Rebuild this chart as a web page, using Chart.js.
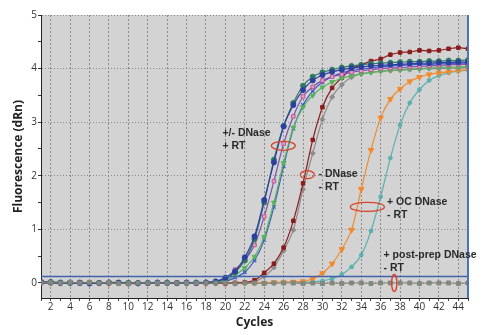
<!DOCTYPE html>
<html>
<head>
<meta charset="utf-8">
<script src="https://cdn.jsdelivr.net/npm/chart.js@4.4.1/dist/chart.umd.min.js"></script>
<style>
html,body{margin:0;padding:0;background:#fff;}
#wrap{width:486px;height:335px;position:relative;}
</style>
</head>
<body>
<div id="wrap"><canvas id="c" width="486" height="335"></canvas></div>
<script>
// ---- data ----
const cycles = [1,2,3,4,5,6,7,8,9,10,11,12,13,14,15,16,17,18,19,20,21,22,23,24,25,26,27,28,29,30,31,32,33,34,35,36,37,38,39,40,41,42,43,44,45];

const darkBlueCircles = [0.02,0.01,0.00,0.01,0.00,-0.01,0.00,0.01,0.00,-0.01,0.00,0.00,0.01,0.00,0.00,0.01,0.00,0.01,0.03,0.10,0.22,0.48,0.87,1.55,2.25,2.92,3.32,3.60,3.78,3.88,3.94,3.98,4.01,4.03,4.05,4.06,4.07,4.08,4.09,4.10,4.10,4.11,4.11,4.12,4.12];
const darkGreenCircles = [0.01,0.02,0.01,0.00,0.01,0.00,0.00,0.01,0.01,0.00,-0.01,0.00,0.00,0.01,0.00,0.00,0.01,0.01,0.02,0.08,0.20,0.42,0.82,1.50,2.30,2.93,3.36,3.68,3.85,3.93,3.98,4.02,4.05,4.07,4.09,4.10,4.11,4.12,4.13,4.13,4.14,4.14,4.15,4.15,4.16];
const pinkSquares = [0.00,0.01,0.01,0.00,0.00,0.01,0.00,0.00,0.01,0.00,0.00,-0.01,0.00,0.00,0.01,0.00,0.00,0.01,0.02,0.08,0.25,0.42,0.71,1.24,1.90,2.60,3.11,3.48,3.66,3.78,3.85,3.89,3.93,3.96,3.98,4.00,4.01,4.02,4.03,4.04,4.05,4.06,4.07,4.08,4.08];
const lightGreenTriangles = [0.01,0.00,0.01,0.01,0.00,0.00,0.01,0.00,0.00,0.01,0.00,0.00,0.00,0.01,0.00,0.00,0.00,0.01,0.01,0.05,0.15,0.28,0.49,0.86,1.50,2.24,2.90,3.28,3.50,3.65,3.75,3.82,3.87,3.90,3.93,3.95,3.97,3.98,3.99,4.00,4.01,4.02,4.03,4.03,4.04];
const blueCrosses = [0.00,0.01,0.00,0.00,0.01,0.00,0.01,0.00,0.00,0.00,0.01,0.00,0.00,0.00,0.01,0.00,0.01,0.00,0.01,0.03,0.10,0.20,0.42,0.80,1.42,2.18,2.88,3.32,3.58,3.75,3.85,3.92,3.96,3.99,4.01,4.03,4.05,4.06,4.07,4.08,4.08,4.09,4.09,4.10,4.10];
const darkRedSquares = [0.01,0.00,0.00,0.01,-0.01,0.00,0.00,0.00,0.01,-0.01,-0.01,0.00,-0.01,0.00,-0.01,0.00,-0.01,0.00,0.00,-0.01,0.00,0.01,0.05,0.19,0.36,0.66,1.16,1.86,2.67,3.28,3.64,3.83,4.00,4.07,4.14,4.18,4.26,4.30,4.31,4.34,4.33,4.34,4.37,4.39,4.37];
const grayDiamonds = [0.00,0.00,0.01,0.00,0.00,0.01,0.00,0.00,0.00,0.00,0.01,0.00,0.00,-0.01,0.00,0.00,0.00,0.00,0.00,0.00,0.00,0.00,0.02,0.12,0.29,0.60,0.99,1.75,2.42,3.05,3.47,3.70,3.84,3.90,3.93,3.95,3.96,3.97,3.98,3.99,4.00,4.00,4.01,4.01,4.02];
const orangeTriangles = [0.02,0.01,0.00,0.00,0.01,0.00,0.00,-0.01,0.00,0.00,0.00,0.00,-0.01,0.00,0.00,-0.01,0.00,-0.01,0.00,-0.01,0.00,0.00,0.00,0.00,0.01,0.01,0.02,0.03,0.08,0.18,0.36,0.63,0.99,1.75,2.48,3.08,3.43,3.62,3.76,3.84,3.89,3.92,3.94,3.96,3.98];
const tealCircles = [0.01,0.00,0.00,0.00,0.00,0.00,0.01,0.00,0.00,0.00,0.00,0.00,0.00,0.00,0.00,0.00,0.00,0.00,0.00,0.00,0.00,0.00,0.00,0.00,0.00,0.01,0.01,0.01,0.02,0.04,0.08,0.16,0.30,0.52,0.97,1.61,2.33,2.95,3.36,3.61,3.78,3.87,3.92,3.95,3.97];
const postPrepSquares = [0.00,0.01,0.00,0.01,0.00,0.01,0.00,0.01,-0.01,-0.01,0.00,0.00,0.00,0.00,0.00,0.00,0.00,0.00,0.00,0.00,-0.01,0.00,0.00,-0.01,0.00,0.00,0.00,-0.01,0.00,-0.01,0.00,-0.01,0.00,0.00,-0.01,0.00,0.00,0.00,0.00,-0.01,0.00,0.00,0.00,-0.01,0.00];
const thresholdLevel = 0.12;

const yTickLabels = [0,1,2,3,4,5];
const xTickLabels = [2,4,6,8,10,12,14,16,18,20,22,24,26,28,30,32,34,36,38,40,42,44];

// annotation texts (positions in data units: cycle, dRn)
const notes = [
  {lines:['+/- DNase','+ RT'], c:19.7, v:2.80},
  {lines:['- DNase','- RT'], c:29.6, v:2.04},
  {lines:['+ OC DNase','- RT'], c:36.65, v:1.50},
  {lines:['+ post-prep DNase','- RT'], c:36.3, v:0.52}
];
const ellipses = [
  {c:25.97, v:2.56, rx:12, ry:4.5},
  {c:28.44, v:2.02, rx:7, ry:4},
  {c:34.63, v:1.42, rx:17, ry:4.5},
  {c:37.4, v:0.0, rx:2.6, ry:8.5}
];

// ---- build chart ----
const pts = arr => cycles.map((c,i)=>({x:c, y:arr[i]}));
function ds(label, arr, color, style, opts) {
  return Object.assign({
    label, data: pts(arr), borderColor: color, backgroundColor: color,
    pointStyle: style, pointRadius: 2.5, pointBorderWidth: 1,
    pointBorderColor: color, pointBackgroundColor: color,
    borderWidth: 1.2, tension: 0.3, fill: false
  }, opts || {});
}

const datasets = [
  {label:'threshold', data:[{x:cycles[0],y:thresholdLevel},{x:cycles[cycles.length-1],y:thresholdLevel}],
   borderColor:'#4162ad', borderWidth:1.6, pointRadius:0, fill:false},
  ds('post-prep', postPrepSquares, '#7d8a82', 'rect', {pointRadius:2.8, borderWidth:1, borderColor:'#9a7a6a'}),
  ds('dark blue', darkBlueCircles, '#2b3f9e', 'circle'),
  ds('dark green', darkGreenCircles, '#2d7a63', 'circle'),
  ds('pink', pinkSquares, '#7b4fb0', 'rect', {pointBorderColor:'#c8509a', pointBackgroundColor:'#d7a6c8'}),
  ds('light green', lightGreenTriangles, '#56b35a', 'triangle', {rotation:180, pointRadius:2.8}),
  ds('blue x', blueCrosses, '#3b58c8', 'crossRot', {pointBorderWidth:1.3}),
  ds('dark red', darkRedSquares, '#8b1c1c', 'rect'),
  ds('gray', grayDiamonds, '#8c8c8c', 'rectRot'),
  ds('orange', orangeTriangles, '#f28a2c', 'triangle', {rotation:180, pointRadius:3.2}),
  ds('teal', tealCircles, '#5bb0b0', 'circle', {pointRadius:1.9})
];

const bgPlugin = {
  id:'bg',
  beforeDraw(chart){
    const {ctx, chartArea:a} = chart;
    ctx.save();
    ctx.fillStyle = '#d3d3d3';
    ctx.fillRect(a.left, a.top, a.right-a.left, a.bottom-a.top);
    ctx.restore();
  },
  afterDatasetsDraw(chart){
    const {ctx, chartArea:a, scales} = chart;
    ctx.save();
    ctx.strokeStyle = '#4f74b8'; ctx.lineWidth = 2;
    ctx.beginPath(); ctx.moveTo(a.right, a.top); ctx.lineTo(a.right, a.bottom); ctx.stroke();
    ctx.strokeStyle = '#d8432c'; ctx.lineWidth = 1.3;
    ellipses.forEach(e=>{
      const x = scales.x.getPixelForValue(e.c), y = scales.y.getPixelForValue(e.v);
      ctx.beginPath(); ctx.ellipse(x, y, e.rx, e.ry, 0, 0, Math.PI*2); ctx.stroke();
    });
    ctx.fillStyle = '#2a2a2a';
    ctx.font = 'bold 10.5px "Liberation Sans", Arial, sans-serif';
    ctx.textBaseline = 'middle'; ctx.textAlign = 'left';
    notes.forEach(n=>{
      const x = scales.x.getPixelForValue(n.c), y = scales.y.getPixelForValue(n.v);
      n.lines.forEach((t,i)=> ctx.fillText(t, x, y + i*13));
    });
    ctx.restore();
  }
};

const isHalf = v => Math.abs(v*2 - Math.round(v*2)) < 1e-6;

new Chart(document.getElementById('c'), {
  type:'line',
  data:{datasets},
  options:{
    responsive:false, animation:false,
    layout:{padding:{top:15, right:18, left:0, bottom:0}},
    plugins:{legend:{display:false}, tooltip:{enabled:false}},
    scales:{
      x:{
        type:'linear', min:1, max:45,
        afterFit(s){ s.height = 37; },
        ticks:{stepSize:1, autoSkip:false, maxRotation:0, padding:0,
          color:'#333', font:{family:'"Open Sans", sans-serif', size:10},
          callback:v => xTickLabels.includes(v) ? String(v) : ''},
        grid:{
          color: c => (c.tick && xTickLabels.includes(c.tick.value)) ? '#8a8a8a' : 'rgba(0,0,0,0)',
          lineWidth:1, tickLength:3, tickColor:'#444', drawTicks:true
        },
        border:{color:'#222', width:1, dash:[2,2]},
        title:{display:true, text:'Cycles', color:'#222',
          font:{family:'"Open Sans", sans-serif', size:12, weight:'bold'}, padding:{top:5,bottom:5}}
      },
      y:{
        min:-0.28, max:5,
        afterFit(s){ s.width = 41; },
        ticks:{stepSize:0.5, padding:1, color:'#333', font:{family:'"Open Sans", sans-serif', size:10},
          callback:v => yTickLabels.includes(v) ? String(v) : ''},
        grid:{
          color: c => (c.tick && yTickLabels.includes(c.tick.value)) ? '#8a8a8a' : 'rgba(0,0,0,0)',
          tickColor: c => (c.tick && isHalf(c.tick.value)) ? '#333' : 'rgba(0,0,0,0)',
          lineWidth:1, tickLength:3
        },
        border:{color:'#222', width:1, dash:[1,2]},
        title:{display:true, text:'Fluorescence (dRn)', color:'#222',
          font:{family:'"Open Sans", sans-serif', size:12, weight:'bold'}, padding:{top:11,bottom:11}}
      }
    }
  },
  plugins:[bgPlugin]
});
</script>
</body>
</html>
